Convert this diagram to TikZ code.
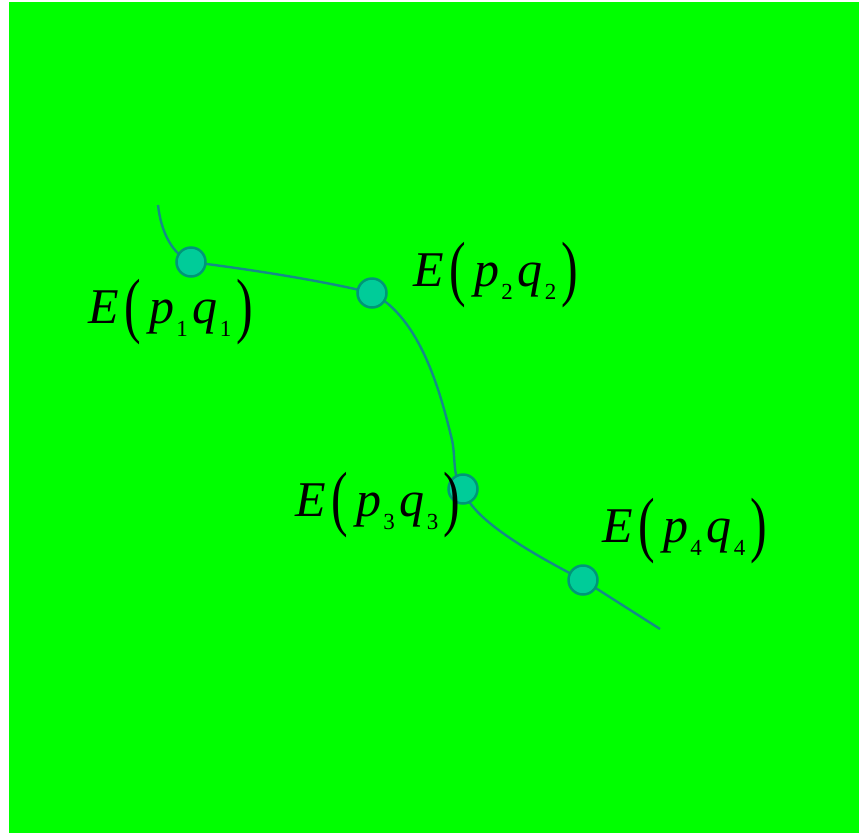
\documentclass[tikz,border=0pt]{standalone}
\usepackage{fontspec}
\usepackage{graphicx}
\setmainfont{Liberation Serif}
\newfontfamily\tnr{Liberation Serif}
\definecolor{bggreen}{RGB}{0,255,0}
\definecolor{dotfill}{RGB}{0,204,153}
\definecolor{dotedge}{RGB}{0,150,120}
\definecolor{curvecol}{RGB}{20,140,135}
\newcommand\subdig[1]{\raisebox{-13pt}{\fontsize{23}{23}\selectfont\upshape #1}}
\newcommand\bigparen[1]{\raisebox{-6pt}{\scalebox{1}[1.45]{\upshape #1}}}
\newcommand\Elab[1]{{\itshape E}\kern6pt\bigparen{(}\kern8pt{\itshape p}\kern2pt\subdig{#1}\kern5pt{\itshape q}\kern2pt\subdig{#1}\kern5pt\bigparen{)}}
\begin{document}
\begin{tikzpicture}[x=1pt,y=-1pt,
  dot/.style={circle,draw=dotedge,fill=dotfill,line width=2.5pt,minimum size=29pt,inner sep=0pt},
  lbl/.style={anchor=base west,inner sep=0pt,font=\tnr\fontsize{50}{50}\selectfont},
  curve/.style={draw=curvecol,line width=2.4pt}]
\useasboundingbox (0,0) rectangle (859,833);
\fill[white] (0,0) rectangle (859,833);
\fill[bggreen] (9,2) rectangle (859,833);
\coordinate (s) at (158,205);
\coordinate (c1) at (191,262);
\coordinate (c2) at (372,293);
\coordinate (m) at (452,440);
\coordinate (c3) at (463,489);
\coordinate (c4) at (583,580);
\coordinate (e) at (660,629);
\draw[curve] (s) .. controls (161,232) and (172,254) .. (c1)
  .. controls (240,268) and (320,280) .. (c2)
  .. controls (420,318) and (440,390) .. (m)
  .. controls (456,458) and (452,478) .. (c3)
  .. controls (470,515) and (515,545) .. (c4)
  -- (e);
\node[dot] (p1) at (c1) {};
\node[dot] (p2) at (c2) {};
\node[dot] (p3) at (c3) {};
\node[dot] (p4) at (c4) {};
\node[lbl] (l1) at (88,323) {\Elab{1}};
\node[lbl] (l2) at (413,286) {\Elab{2}};
\node[lbl] (l3) at (295,516) {\Elab{3}};
\node[lbl] (l4) at (602,542) {\Elab{4}};
\end{tikzpicture}
\end{document}
